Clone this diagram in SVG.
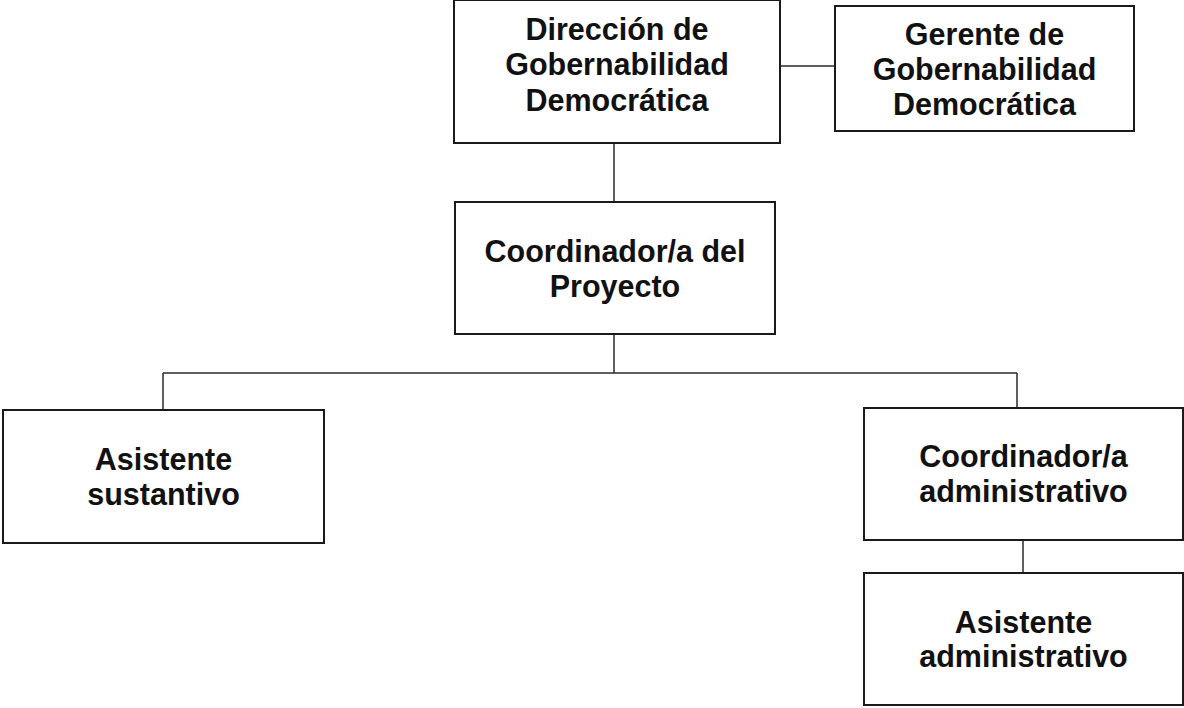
<svg xmlns="http://www.w3.org/2000/svg" width="1184" height="708" viewBox="0 0 1184 708">
<style>
.box{fill:#fff;stroke:#1a1a1a;stroke-width:2}
.conn{stroke:#2a2a2a;stroke-width:1.5;fill:none}
.t{font-family:"Liberation Sans",Arial,sans-serif;font-weight:bold;font-size:30.5px;fill:#111;text-anchor:middle}
</style>
<rect width="1184" height="708" fill="#fff"/>
<g id="connectors">
<line class="conn" x1="780" y1="66" x2="835" y2="66"/>
<line class="conn" x1="614" y1="143" x2="614" y2="202"/>
<line class="conn" x1="614" y1="334" x2="614" y2="373"/>
<line class="conn" x1="163" y1="373" x2="1017" y2="373"/>
<line class="conn" x1="163" y1="373" x2="163" y2="410"/>
<line class="conn" x1="1017" y1="373" x2="1017" y2="408"/>
<line class="conn" x1="1023" y1="540" x2="1023" y2="573"/>
</g>
<g id="direccion">
<rect class="box" x="454" y="0" width="326" height="143"/>
<text class="t" x="617" y="39.5">Dirección de</text>
<text class="t" x="617" y="75">Gobernabilidad</text>
<text class="t" x="617" y="110.5">Democrática</text>
</g>
<g id="gerente">
<rect class="box" x="835" y="6" width="299" height="125"/>
<text class="t" x="984.5" y="45">Gerente de</text>
<text class="t" x="984.5" y="80">Gobernabilidad</text>
<text class="t" x="984.5" y="115">Democrática</text>
</g>
<g id="coordinador">
<rect class="box" x="455" y="202" width="320" height="132"/>
<text class="t" x="615" y="262">Coordinador/a del</text>
<text class="t" x="615" y="296.5">Proyecto</text>
</g>
<g id="asistente-sustantivo">
<rect class="box" x="3" y="410" width="321" height="133"/>
<text class="t" x="163.5" y="470">Asistente</text>
<text class="t" x="163.5" y="505">sustantivo</text>
</g>
<g id="coordinador-admin">
<rect class="box" x="864" y="408" width="319" height="132"/>
<text class="t" x="1023.5" y="467">Coordinador/a</text>
<text class="t" x="1023.5" y="502">administrativo</text>
</g>
<g id="asistente-admin">
<rect class="box" x="864" y="573" width="319" height="132"/>
<text class="t" x="1023.5" y="633">Asistente</text>
<text class="t" x="1023.5" y="667">administrativo</text>
</g>
</svg>
